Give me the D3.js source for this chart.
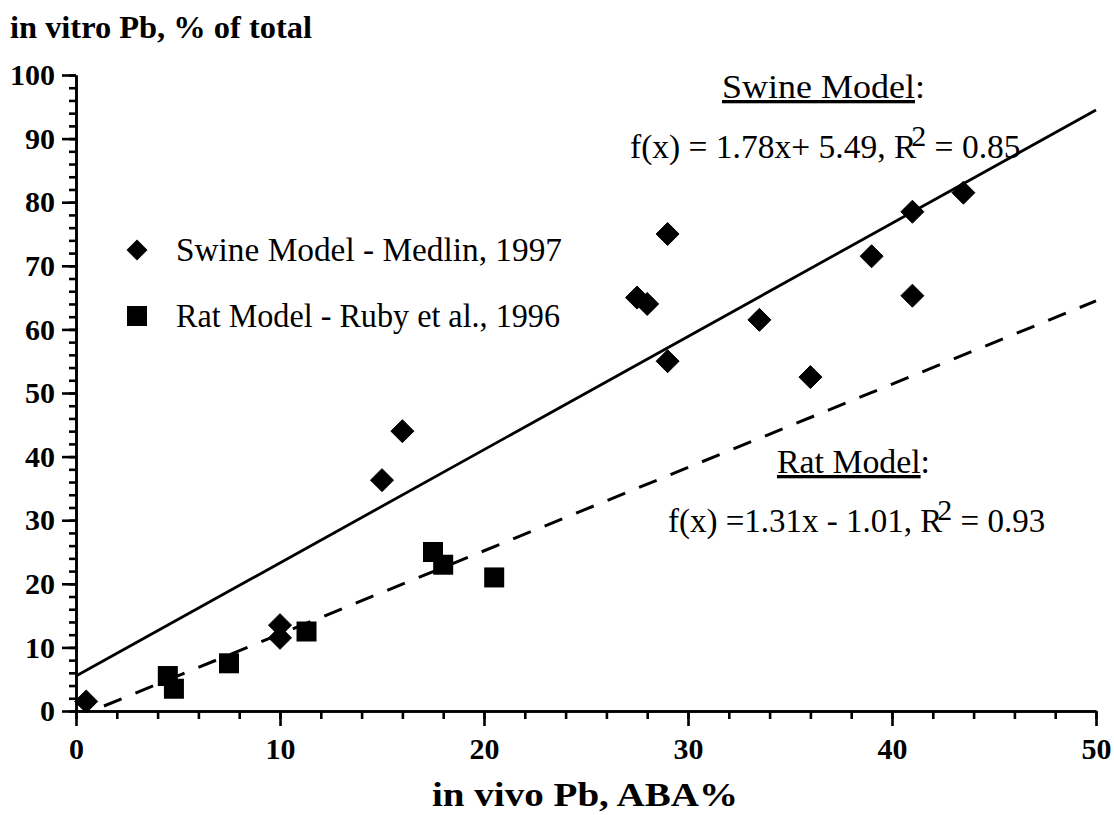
<!DOCTYPE html>
<html><head><meta charset="utf-8">
<script src="https://cdn.jsdelivr.net/npm/d3@7"></script>
<style>body{margin:0;background:#fff;} svg{display:block;}</style>
</head><body>
<svg id="c" width="1114" height="815"></svg>
<script>
// ---- data ----
const swineX = [0.5, 10, 10, 15, 16, 27.5, 28, 29, 29, 33.5, 36, 39, 41, 41, 43.5];
const swineY = [1.5, 13.5, 11.5, 36.3, 44, 65, 64, 75, 55, 61.5, 52.5, 71.5, 78.5, 65.3, 81.5];
const ratX = [4.5, 4.8, 7.5, 11.3, 17.5, 18, 20.5];
const ratY = [5.5, 3.5, 7.5, 12.5, 25, 23, 21];
const swineFit = {slope: 1.78, intercept: 5.49, r2: 0.85};
const ratFit = {slope: 1.31, intercept: -1.01, r2: 0.93};
const xMajorTicks = [0, 10, 20, 30, 40, 50];
const yMajorTicks = [0, 10, 20, 30, 40, 50, 60, 70, 80, 90, 100];
const xMinorTicks = d3.range(0, 51, 2);
const yMinorTicks = d3.range(0, 101, 2);
const legendLabels = ["Swine Model - Medlin, 1997", "Rat Model - Ruby et al., 1996"];
const yTitle = "in vitro Pb, % of total";
const xTitle = "in vivo Pb, ABA%";

// ---- layout ----
const svg = d3.select("#c");
const FONT = "'Liberation Serif', 'Times New Roman', serif";
const x = d3.scaleLinear().domain([0, 50]).range([76, 1096]);
const y = d3.scaleLinear().domain([0, 100]).range([711, 75]);

// axes: minor ticks
const gyMinor = svg.append("g").attr("transform", `translate(${x(0)},0)`)
  .call(d3.axisLeft(y).tickValues(yMinorTicks).tickSize(7).tickSizeOuter(0).tickFormat(""));
const gxMinor = svg.append("g").attr("transform", `translate(0,${y(0)})`)
  .call(d3.axisBottom(x).tickValues(xMinorTicks).tickSize(8).tickSizeOuter(0).tickFormat(""));
// major ticks with labels
const gy = svg.append("g").attr("transform", `translate(${x(0)},0)`)
  .call(d3.axisLeft(y).tickValues(yMajorTicks).tickSize(14).tickSizeOuter(0).tickPadding(7));
const gx = svg.append("g").attr("transform", `translate(0,${y(0)})`)
  .call(d3.axisBottom(x).tickValues(xMajorTicks).tickSize(15).tickSizeOuter(0).tickPadding(12));
[gyMinor, gxMinor, gy, gx].forEach(g => {
  g.selectAll("path, line").attr("stroke", "#000").attr("stroke-width", 2.6);
  g.selectAll("text").attr("fill", "#000").attr("font-family", FONT)
    .attr("font-size", 30).attr("font-weight", "bold");
});

// regression lines
const lineGen = d3.line().x(d => x(d[0])).y(d => y(d[1]));
svg.append("path")
  .attr("d", lineGen([[0, swineFit.intercept], [50, swineFit.intercept + swineFit.slope * 50]]))
  .attr("stroke", "#000").attr("stroke-width", 2.8).attr("fill", "none");
const ratStart = -ratFit.intercept / ratFit.slope + 0.6;
svg.append("path")
  .attr("d", lineGen([[ratStart, ratFit.intercept + ratFit.slope * ratStart], [50, ratFit.intercept + ratFit.slope * 50]]))
  .attr("stroke", "#000").attr("stroke-width", 3).attr("fill", "none")
  .attr("stroke-dasharray", "19,15");

// points
const diamondPath = (h) => `M0,${-h}L${h},0L0,${h}L${-h},0Z`;
svg.append("g").selectAll("path").data(swineX.map((v, i) => [v, swineY[i]])).join("path")
  .attr("d", diamondPath(11.5))
  .attr("transform", d => `translate(${x(d[0])},${y(d[1])})`)
  .attr("fill", "#000").attr("stroke", "#000").attr("stroke-width", 1).attr("stroke-linejoin", "round");
svg.append("g").selectAll("rect").data(ratX.map((v, i) => [v, ratY[i]])).join("rect")
  .attr("x", d => x(d[0]) - 10).attr("y", d => y(d[1]) - 10)
  .attr("width", 20).attr("height", 20).attr("fill", "#000");

// legend
const leg = svg.append("g");
leg.append("path").attr("d", diamondPath(10.5)).attr("transform", "translate(137,250)").attr("fill", "#000");
leg.append("rect").attr("x", 127).attr("y", 306).attr("width", 20).attr("height", 20).attr("fill", "#000");
const legendWidths = [386, 384];
leg.selectAll("text").data(legendLabels).join("text")
  .attr("x", 176).attr("y", (d, i) => 261 + i * 66)
  .attr("font-family", FONT).attr("font-size", 33)
  .attr("textLength", (d, i) => legendWidths[i]).attr("lengthAdjust", "spacingAndGlyphs")
  .text(d => d);

// titles
svg.append("text").attr("x", 10).attr("y", 38).attr("font-family", FONT)
  .attr("font-size", 32).attr("font-weight", "bold")
  .attr("textLength", 302).attr("lengthAdjust", "spacingAndGlyphs").text(yTitle);
svg.append("text").attr("x", 432).attr("y", 806).attr("font-family", FONT)
  .attr("font-size", 34).attr("font-weight", "bold")
  .attr("textLength", 306).attr("lengthAdjust", "spacingAndGlyphs").text(xTitle);

// annotations
function modelHeading(label, xx, yy, w) {
  const t = svg.append("text").attr("x", xx).attr("y", yy).attr("font-family", FONT).attr("font-size", 33)
    .attr("textLength", w).attr("lengthAdjust", "spacingAndGlyphs");
  t.append("tspan").attr("text-decoration", "underline").text(label);
  t.append("tspan").text(":");
}
function equation(prefix, fit, xx, yy, fs) {
  const t = svg.append("text").attr("x", xx).attr("y", yy).attr("font-family", FONT).attr("font-size", fs);
  t.append("tspan").text(prefix + ", R");
  t.append("tspan").attr("dx", -5).attr("dy", -12).attr("font-size", 30).text("2");
  t.append("tspan").attr("dy", 12).text(" = " + fit.r2.toFixed(2));
}
modelHeading("Swine Model", 722, 98, 203);
equation(`f(x) = ${swineFit.slope}x+ ${swineFit.intercept}`, swineFit, 630, 158, 33.5);
modelHeading("Rat Model", 777, 473, 153);
equation(`f(x) =${ratFit.slope}x - ${Math.abs(ratFit.intercept)}`, ratFit, 668, 532, 33);
</script>
</body></html>
